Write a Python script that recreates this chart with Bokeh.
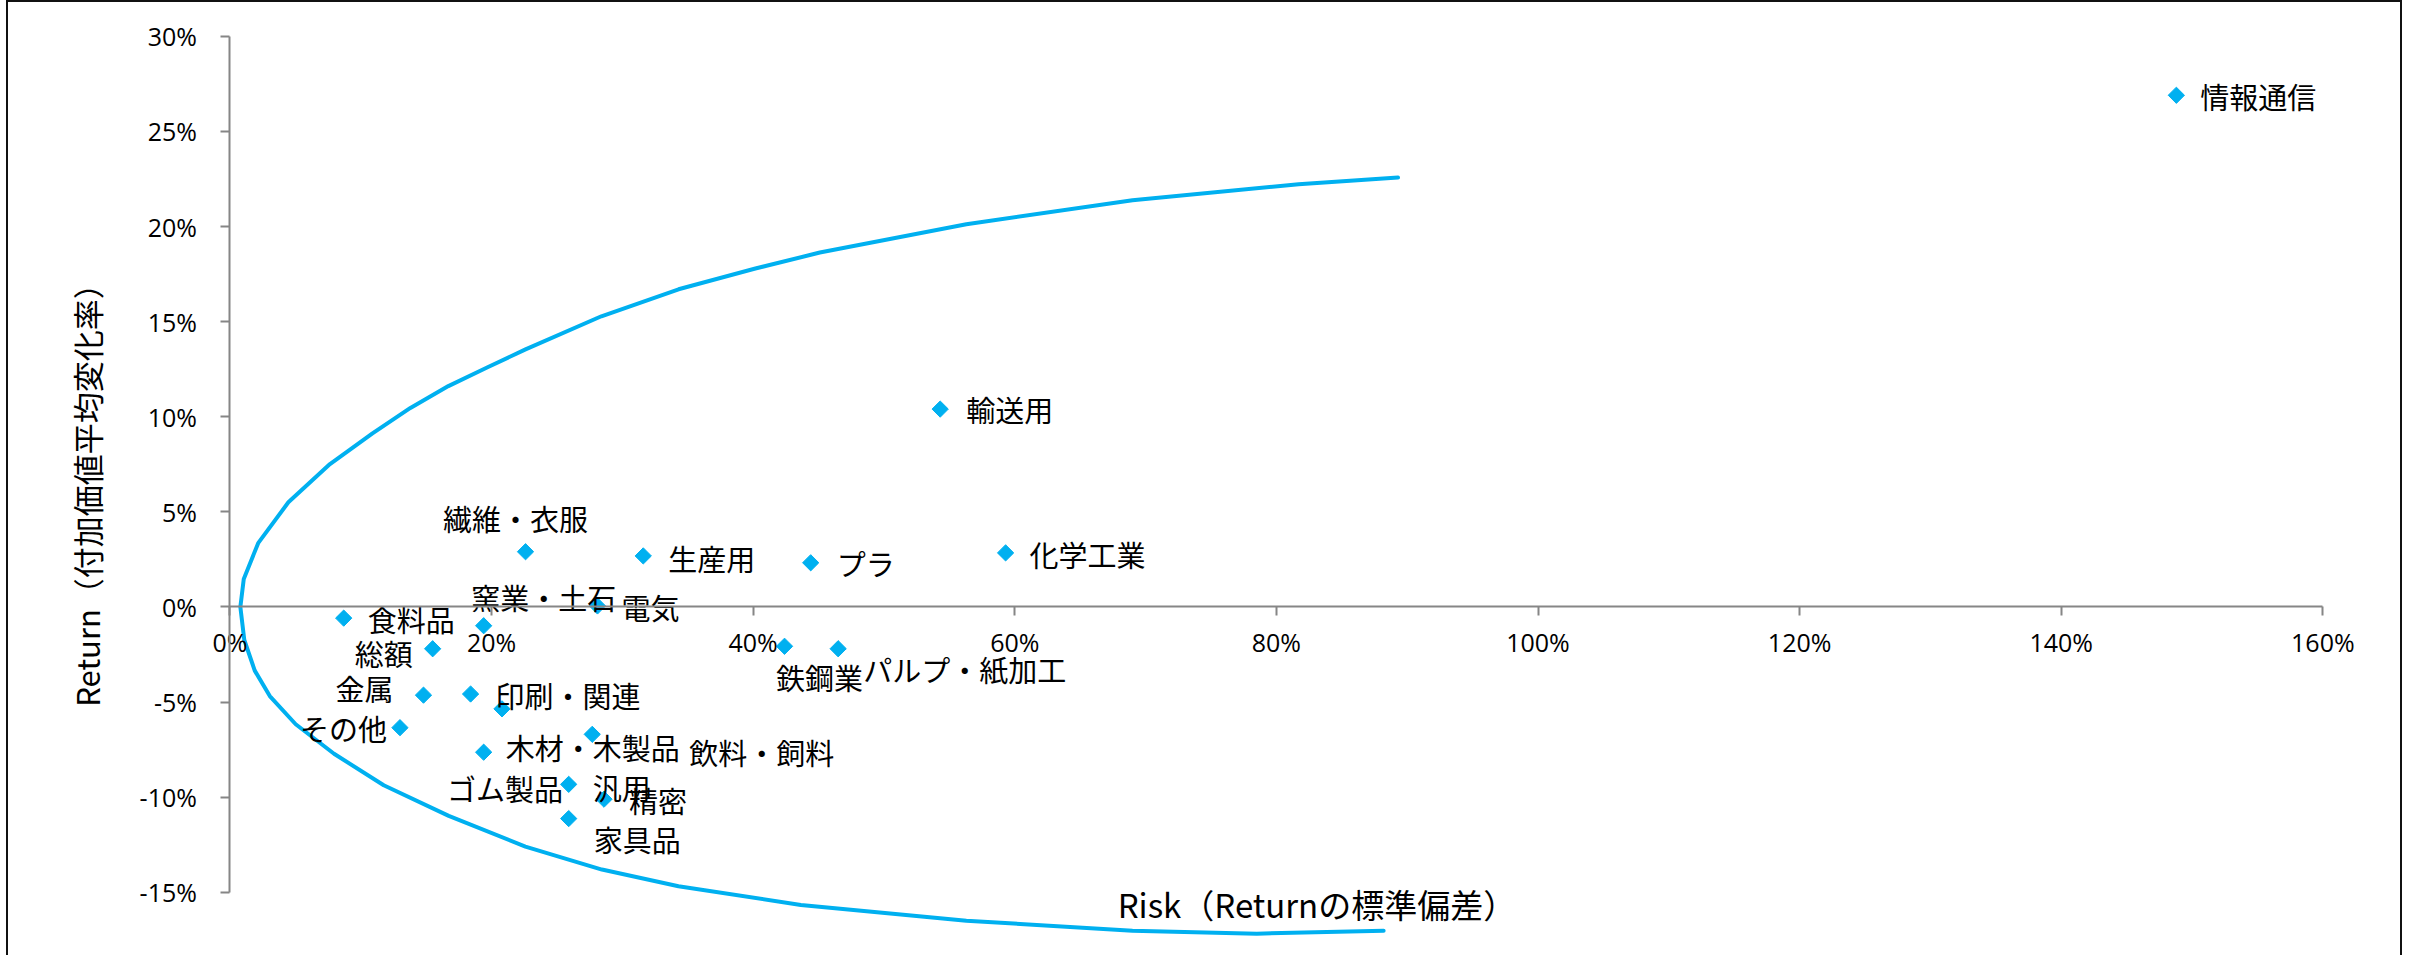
import math
from bokeh.plotting import figure
from bokeh.models import Range1d, FixedTicker, NumeralTickFormatter, ColumnDataSource, Label
from bokeh.embed import file_html
from bokeh.resources import INLINE
from bokeh.core.properties import value

# ---------------- data (percent) ----------------
industries = ["情報通信", "輸送用", "化学工業", "プラ", "生産用", "繊維・衣服", "電気",
              "窯業・土石", "食料品", "総額", "鉄鋼業", "パルプ・紙加工", "金属",
              "印刷・関連", "ゴム製品", "その他", "飲料・飼料", "木材・木製品",
              "汎用", "精密", "家具品"]
risk_pct = [148.8, 54.3, 59.3, 44.4, 31.6, 22.6, 28.1,
            19.4, 8.7, 15.5, 42.4, 46.5, 14.8,
            18.4, 20.8, 13.0, 27.7, 19.4,
            25.9, 28.6, 25.9]
return_pct = [26.9, 10.4, 2.84, 2.32, 2.68, 2.90, 0.05,
              -0.99, -0.59, -2.20, -2.07, -2.20, -4.64,
              -4.58, -5.36, -6.35, -6.70, -7.64,
              -9.33, -10.11, -11.13]

# hand-drawn frontier curve (percent)
frontier_risk = [89.3, 81.7, 69.0, 56.3, 45.1, 40.1, 34.3, 28.4, 22.6, 19.7, 16.7,
                 13.8, 10.9, 7.65, 4.47, 2.16, 1.06, 0.8,
                 1.1, 1.9, 3.05, 5.03, 7.96, 11.76, 16.73, 22.59, 28.44, 34.29,
                 43.65, 56.3, 69.0, 78.5, 88.2]
frontier_return = [22.57, 22.22, 21.38, 20.12, 18.63, 17.78, 16.70, 15.28, 13.54, 12.60, 11.61,
                   10.46, 9.12, 7.51, 5.50, 3.35, 1.47, 0.0,
                   -1.74, -3.35, -4.69, -6.17, -7.72, -9.38, -10.99, -12.60, -13.81, -14.69,
                   -15.67, -16.5, -17.03, -17.18, -17.03]

x_ticks_pct = [0, 20, 40, 60, 80, 100, 120, 140, 160]
y_ticks_pct = [-15, -10, -5, 0, 5, 10, 15, 20, 25, 30]

x_title = "Risk（Returnの標準偏差）"
y_title = "Return（付加価値平均変化率）"

# label placement (screen px offsets, alignment) per industry
label_dx = [24, 26, 24, 26, 25, -10, 24, 60, 24, -20, 35, 25, -30, 25, 61, -13, 97, 22, 24, 25, 25]
label_dy = [1, 0, 1, 0, 2, -34, 1, -29, 1, 4, 31, 20, -7, 1, 79, 0, 18, -5, 3, 1, 20]
label_align = ["left", "left", "left", "left", "left", "center", "left", "center", "left",
               "right", "center", "left", "right", "left", "right", "right", "left", "left",
               "left", "left", "left"]

BLUE = "#00B0F0"
AXIS_GRAY = "#868686"
CJK = "Noto Sans CJK JP"

# canvas / frame geometry (frame fills the whole canvas; axes sit at fixed locations)
W, H = 2396, 955
PX_PER_PCT_X = 13.081      # screen px per 1 % of risk
PX_PER_PCT_Y = 19.02       # screen px per 1 % of return
ORIGIN_X, ORIGIN_Y = 221.4, 604.4   # canvas px of (0 %, 0 %)
x_start = -ORIGIN_X / PX_PER_PCT_X / 100
x_end = (W - ORIGIN_X) / PX_PER_PCT_X / 100
y_end = ORIGIN_Y / PX_PER_PCT_Y / 100
y_start = -(H - ORIGIN_Y) / PX_PER_PCT_Y / 100

p = figure(width=W, height=H, output_backend="svg", toolbar_location=None,
           x_range=Range1d(x_start, x_end), y_range=Range1d(y_start, y_end),
           min_border_left=0, min_border_right=0, min_border_top=0, min_border_bottom=0)
p.styles = {"border-top": "2px solid #111111", "border-left": "2px solid #111111",
            "border-right": "2px solid #111111", "margin-left": "6px"}
p.outline_line_color = None
p.xgrid.visible = False
p.ygrid.visible = False
p.background_fill_color = "white"
p.border_fill_color = "white"

# axes
for ax in (p.xaxis[0], p.yaxis[0]):
    ax.axis_line_color = AXIS_GRAY
    ax.axis_line_width = 2
    ax.major_tick_line_color = AXIS_GRAY
    ax.major_tick_line_width = 2
    ax.major_tick_in = 0
    ax.major_tick_out = 9
    ax.minor_tick_line_color = None
    ax.major_label_text_font = "Open Sans"
    ax.major_label_text_font_size = "25px"
    ax.major_label_text_color = "black"
    ax.formatter = NumeralTickFormatter(format="0%")
    ax.fixed_location = 0

p.xaxis.ticker = FixedTicker(ticks=[v / 100 for v in x_ticks_pct])
p.yaxis.ticker = FixedTicker(ticks=[v / 100 for v in y_ticks_pct])
p.xaxis.bounds = (0, 1.6)
p.yaxis.bounds = (-0.15, 0.30)
p.xaxis.major_label_standoff = 9
p.yaxis.major_label_standoff = 24

# frontier curve
p.line([v / 100 for v in frontier_risk], [v / 100 for v in frontier_return],
       line_color=BLUE, line_width=4, line_join="round", line_cap="round")

# points
src = ColumnDataSource(dict(x=[v / 100 for v in risk_pct], y=[v / 100 for v in return_pct],
                            name=industries))
p.scatter("x", "y", source=src, marker="square", size=11.5, angle=math.pi / 4,
          fill_color=BLUE, line_color=BLUE)

for al in ("left", "center", "right"):
    idx = [i for i, a in enumerate(label_align) if a == al]
    s = ColumnDataSource(dict(x=[risk_pct[i] / 100 for i in idx], y=[return_pct[i] / 100 for i in idx],
                              name=[industries[i] for i in idx], dx=[label_dx[i] for i in idx],
                              dy=[label_dy[i] for i in idx]))
    p.text("x", "y", text="name", x_offset="dx", y_offset="dy", source=s,
           text_align=al, text_baseline="middle", text_font=value(CJK),
           text_font_size="29px", text_color="black")

# axis titles
p.add_layout(Label(x=0.831, y=-0.156, text=x_title, text_align="center", text_baseline="middle",
                   text_font=CJK, text_font_size="33px", text_color="black"))
p.add_layout(Label(x=-0.1096, y=0.0628, text=y_title, angle=math.pi / 2,
                   text_align="center", text_baseline="middle",
                   text_font=CJK, text_font_size="31px", text_color="black"))

open("out.html", "w").write(file_html(p, INLINE))
